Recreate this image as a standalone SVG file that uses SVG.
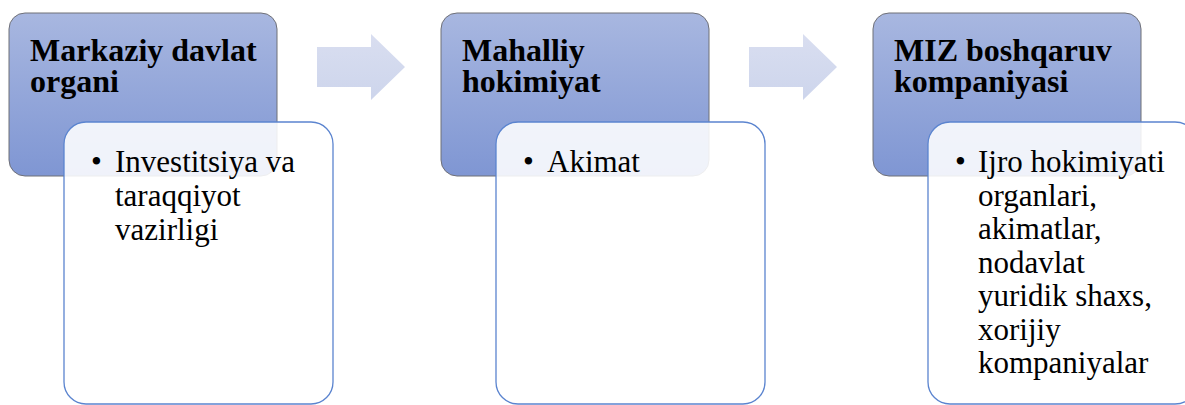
<svg xmlns="http://www.w3.org/2000/svg" width="1185" height="405" viewBox="0 0 1185 405">
<defs>
<linearGradient id="hg" x1="0" y1="0" x2="0" y2="1">
<stop offset="0" stop-color="#a8b7e0"/>
<stop offset="1" stop-color="#7f96d3"/>
</linearGradient>
<linearGradient id="ag" x1="0" y1="0" x2="0" y2="1">
<stop offset="0" stop-color="#d9def0"/>
<stop offset="1" stop-color="#cdd5ec"/>
</linearGradient>
</defs>
<style>
.hdr{fill:url(#hg);stroke:#6f7077;stroke-width:1}
.body{fill:#ffffff;fill-opacity:0.88;stroke:#5b84cf;stroke-width:1.3}
.arr{fill:url(#ag)}
.ht{font-family:"Liberation Serif","Times New Roman",serif;font-weight:bold;font-size:32px;fill:#000}
.bt{font-family:"Liberation Serif","Times New Roman",serif;font-size:31px;fill:#000}
</style>
<g id="connectors">
<polygon class="arr" points="317,47 371,47 371,34 405,67 371,100 371,87 317,87"/>
<polygon class="arr" points="749,47 803,47 803,34 837,67 803,100 803,87 749,87"/>
</g>
<g id="node1">
<rect class="hdr" x="9" y="13" width="268" height="163" rx="16"/>
<text class="ht"><tspan x="30" y="61">Markaziy davlat</tspan><tspan x="30" y="92">organi</tspan></text>
<rect class="body" x="64" y="122" width="269" height="282" rx="22"/>
<text class="bt"><tspan x="91" y="172">•</tspan><tspan x="115" y="172">Investitsiya va</tspan><tspan x="115" y="206">taraqqiyot</tspan><tspan x="115" y="240">vazirligi</tspan></text>
</g>
<g id="node2">
<rect class="hdr" x="441" y="13" width="268" height="163" rx="16"/>
<text class="ht"><tspan x="462" y="61">Mahalliy</tspan><tspan x="462" y="92">hokimiyat</tspan></text>
<rect class="body" x="496" y="122" width="269" height="282" rx="22"/>
<text class="bt"><tspan x="523" y="172">•</tspan><tspan x="547" y="172">Akimat</tspan></text>
</g>
<g id="node3">
<rect class="hdr" x="873" y="13" width="268" height="163" rx="16"/>
<text class="ht"><tspan x="894" y="61">MIZ boshqaruv</tspan><tspan x="894" y="92">kompaniyasi</tspan></text>
<rect class="body" x="928" y="122" width="269" height="282" rx="22"/>
<text class="bt"><tspan x="955" y="172">•</tspan><tspan x="978" y="172">Ijro hokimiyati</tspan><tspan x="978" y="205.5">organlari,</tspan><tspan x="978" y="239">akimatlar,</tspan><tspan x="978" y="272.5">nodavlat</tspan><tspan x="978" y="306">yuridik shaxs,</tspan><tspan x="978" y="339.5">xorijiy</tspan><tspan x="978" y="373">kompaniyalar</tspan></text>
</g>
</svg>
